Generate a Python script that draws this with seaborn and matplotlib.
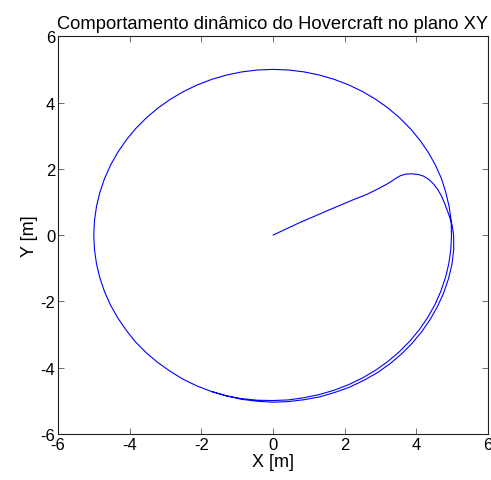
import matplotlib
matplotlib.use("Agg")
import matplotlib.pyplot as plt
import seaborn as sns
import numpy as np
import pandas as pd

# Approach leg: from the origin out to the orbit (x, y in metres)
approach_x = [0.00, 0.75, 1.50, 2.20, 2.62, 2.90, 3.18, 3.30, 3.42, 3.55, 3.70, 3.87,
              4.05, 4.20, 4.35, 4.48, 4.60, 4.70, 4.78, 4.85, 4.91, 4.96, 5.00, 5.02]
approach_y = [0.00, 0.38, 0.73, 1.05, 1.23, 1.38, 1.54, 1.62, 1.71, 1.79, 1.84, 1.85,
              1.83, 1.78, 1.68, 1.54, 1.37, 1.18, 0.98, 0.78, 0.60, 0.44, 0.28, 0.14]

# Orbit: polar angle (deg, clockwise travel) and distance from the origin (m)
orbit_deg = [0, -5, -10, -15, -20, -25, -30, -35, -40, -45, -50, -55, -60, -65, -70, -75,
             -80, -85, -90, -95, -100, -105, -110, -115, -120, -125, -130, -135, -140,
             -145, -150, -155, -160, -165, -170, -175, -180, -185, -190, -195, -200,
             -205, -210, -215, -220, -225, -230, -235, -240, -245, -250, -255, -260,
             -265, -270, -275, -280, -285, -290, -295, -300, -305, -310, -315, -320,
             -325, -330, -335, -340, -345, -350, -355, -360, -365, -370, -375, -380,
             -385, -390, -395, -400, -405, -410, -415, -420, -425, -430, -435, -440,
             -445, -450, -455, -460, -465, -470]
orbit_r = [5.04, 5.06, 5.07, 5.07, 5.07, 5.07, 5.07, 5.07, 5.07, 5.07, 5.07, 5.07,
           5.06, 5.06, 5.05, 5.05, 5.04, 5.04, 5.04, 5.03, 5.03, 5.02, 5.02, 5.02,
           5.02, 5.01, 5.01, 5.01, 5.01, 5.00, 5.00, 5.00, 5.00, 5.00, 5.00, 5.00,
           5.00, 5.00, 5.00, 5.00, 5.00, 5.00, 5.00, 5.00, 5.00, 5.00, 5.00, 5.00,
           5.00, 5.00, 5.00, 5.00, 5.00, 5.00, 5.00, 5.00, 5.00, 5.00, 5.00, 5.00,
           5.00, 5.00, 5.00, 5.00, 5.00, 5.00, 5.00, 5.00, 5.00, 4.99, 4.99, 4.99,
           4.98, 4.98, 4.98, 4.98, 4.98, 4.98, 4.98, 4.98, 4.98, 4.98, 4.98, 4.98,
           4.98, 4.98, 4.98, 4.98, 4.98, 4.99, 4.99, 5.00, 5.01, 5.02, 5.02]

ticks = [-6, -4, -2, 0, 2, 4, 6]
title = "Comportamento dinâmico do Hovercraft no plano XY"

ang = np.deg2rad(orbit_deg)
rad = np.asarray(orbit_r)
path_x = np.concatenate([approach_x, rad * np.cos(ang)])
path_y = np.concatenate([approach_y, rad * np.sin(ang)])
df = pd.DataFrame({"x": path_x, "y": path_y})

sns.set_theme(style="white")
plt.rcParams["font.family"] = ["Liberation Sans", "DejaVu Sans"]

fig = plt.figure(figsize=(4.91, 4.81), dpi=100)
ax = fig.add_axes([0.118, 0.0956, 0.876, 0.827])

sns.lineplot(data=df, x="x", y="y", sort=False, estimator=None,
             color="#0000ff", linewidth=0.8, ax=ax)

ax.set_xlim(-6, 6)
ax.set_ylim(-6, 6)
ax.set_xticks(ticks)
ax.set_yticks(ticks)
ax.set_xticklabels([str(t) for t in ticks])
ax.set_yticklabels([str(t) for t in ticks])

ax.tick_params(direction="in", length=4, width=0.6, color="#555555",
               labelsize=12, labelcolor="black", pad=2,
               bottom=True, left=True, top=True, right=True)
for s in ax.spines.values():
    s.set_color("#222222")
    s.set_linewidth(0.8)

ax.set_xlabel("X [m]", fontsize=13, color="black", labelpad=1)
ax.set_ylabel("Y [m]", fontsize=13, color="black", labelpad=2)
ax.set_title(title, fontsize=13.2, color="black", pad=6)

fig.savefig("out.png", dpi=100)
